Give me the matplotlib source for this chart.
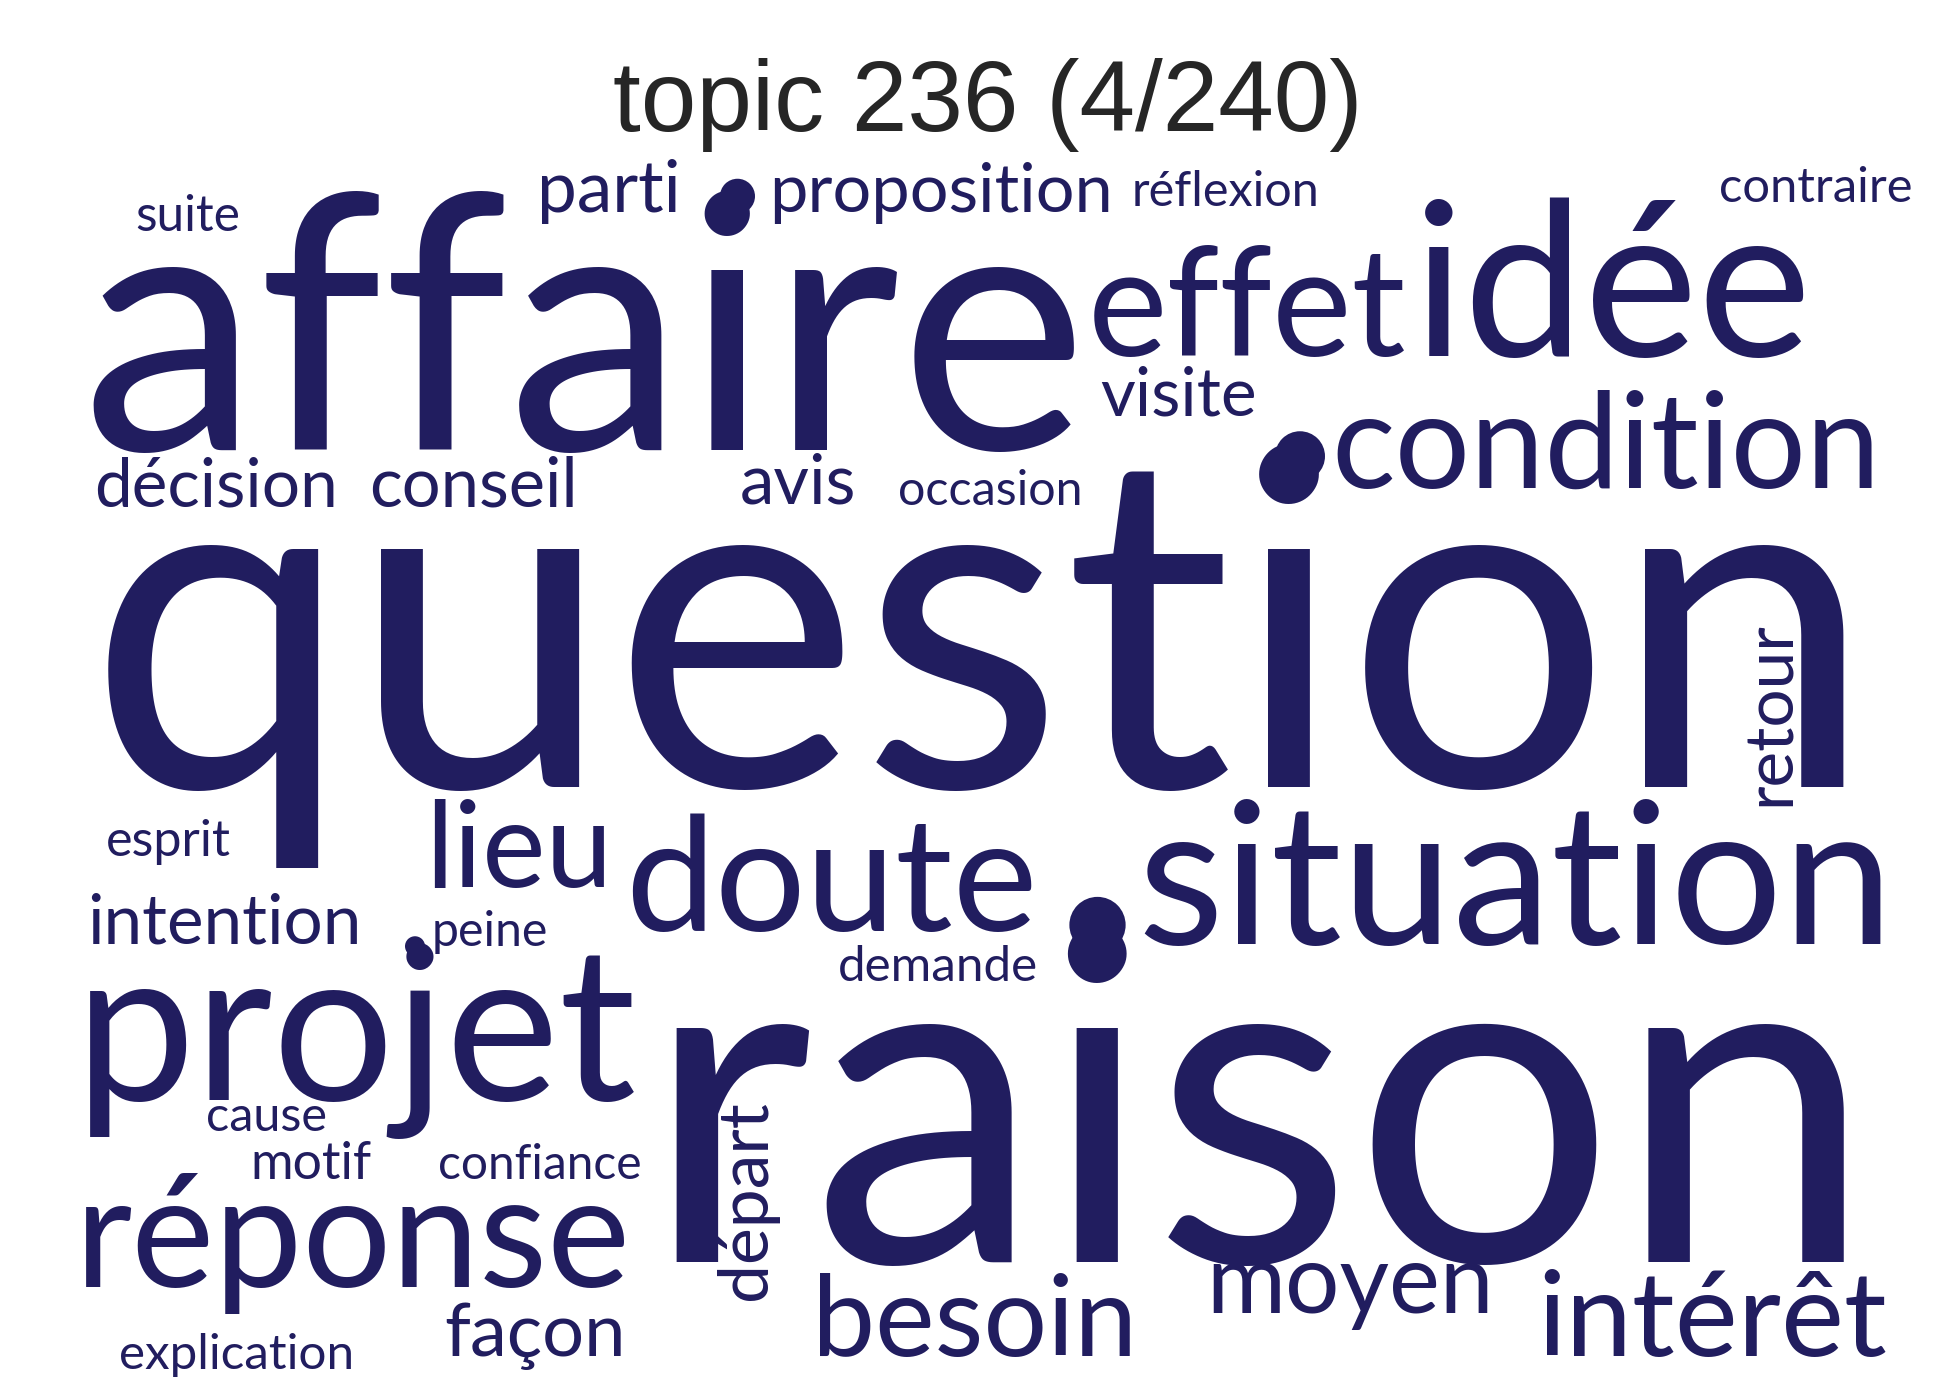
import matplotlib
matplotlib.use('Agg')
import matplotlib.pyplot as plt
from matplotlib.patches import Circle

# words of the topic and where they sit (reference-pixel layout, 1560x1120 space)
words = ['affaire', 'effet', 'idée', 'question', 'raison', 'situation', 'condition',
         'doute', 'projet', 'réponse', 'besoin', 'intérêt', 'moyen', 'lieu', 'façon',
         'visite', 'parti', 'proposition', 'réflexion', 'contraire', 'suite',
         'décision', 'conseil', 'avis', 'occasion', 'esprit', 'intention', 'peine',
         'demande', 'cause', 'motif', 'confiance', 'explication']
x_left = [65, 870, 1130, 70, 515, 910, 1065, 500, 60, 60, 650, 1230, 965, 340, 355,
          880, 430, 615, 905, 1375, 108, 75, 295, 592, 718, 85, 70, 345, 670, 165,
          200, 350, 95]
x_right = [870, 1125, 1450, 1500, 1500, 1515, 1505, 830, 510, 505, 910, 1510, 1195,
           490, 500, 1005, 545, 890, 1055, 1530, 192, 270, 462, 685, 866, 185, 290,
           438, 830, 262, 297, 513, 283]
baseline = [360, 285, 285, 630, 1010, 755, 390, 745, 880, 1030, 1085, 1085, 1050,
            710, 1085, 332, 170, 170, 165, 162, 185, 405, 405, 403, 404, 685, 755,
            757, 785, 905, 943, 943, 1095]

# vertical words: x of baseline, bottom y, top y
vwords = ['retour', 'départ']
v_base = [1432, 613]
v_bottom = [645, 1040]
v_top = [497, 880]

# dots
dot_x = [590, 1040, 878, 332]
dot_y = [157, 365, 740, 757]
dot_d = [28, 40, 45, 16]

color = '#211d5f'
fig = plt.figure(figsize=(19.5, 14), dpi=100)
ax = fig.add_axes([0, 0, 1, 1])
ax.set_xlim(0, 1560)
ax.set_ylim(1120, 0)
ax.axis('off')
r = fig.canvas.get_renderer()
sx = 1950 / 1560

for w, a, b, y in zip(words, x_left, x_right, baseline):
    t = ax.text(a, y, w, fontfamily='Lato', color=color, ha='left', va='baseline')
    t.set_fontsize(100)
    bb = t.get_window_extent(renderer=r)
    t.set_fontsize(100 * (b - a) * sx / bb.width)

for w, xb, y0, y1 in zip(vwords, v_base, v_bottom, v_top):
    t = ax.text(xb, y0, w, fontfamily='Lato', color=color, rotation=90,
                rotation_mode='anchor', ha='left', va='baseline')
    t.set_fontsize(100)
    bb = t.get_window_extent(renderer=r)
    t.set_fontsize(100 * (y0 - y1) * sx / bb.height)

for x, y, d in zip(dot_x, dot_y, dot_d):
    ax.add_patch(Circle((x, y), d / 2, color=color, lw=0))

t = ax.text(790, 105, 'topic 236 (4/240)', fontfamily='Liberation Sans',
            color='#262626', ha='center', va='baseline')
t.set_fontsize(100)
bb = t.get_window_extent(renderer=r)
t.set_fontsize(100 * 600 * sx / bb.width)

fig.savefig('out.png', dpi=100, facecolor='white')
